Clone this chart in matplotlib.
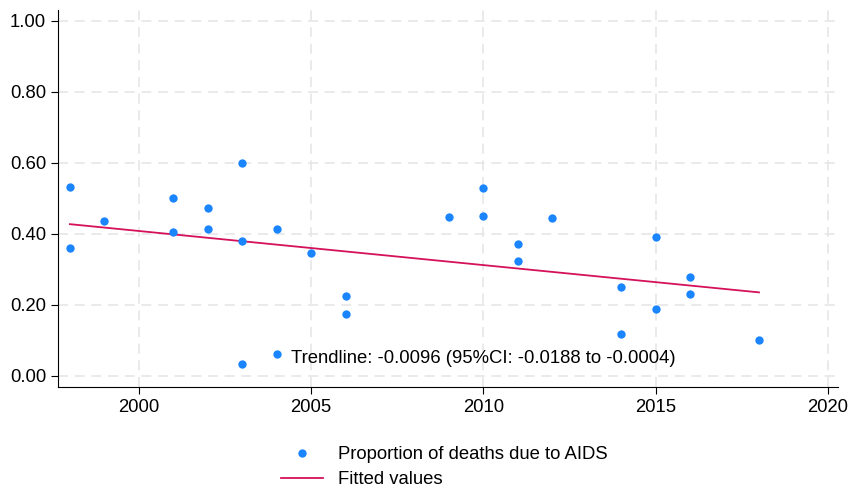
import numpy as np
import matplotlib
matplotlib.use("Agg")
import matplotlib.pyplot as plt

plt.rcParams['font.family'] = ['Liberation Sans', 'DejaVu Sans']

years = [1998, 1998, 1999, 2001, 2001, 2002, 2002, 2003, 2003, 2003,
         2004, 2004, 2005, 2006, 2006, 2009, 2010, 2010, 2011, 2011,
         2012, 2014, 2014, 2015, 2015, 2016, 2016, 2018]
prop_aids = [0.531, 0.360, 0.435, 0.500, 0.404, 0.472, 0.413, 0.598, 0.379, 0.034,
             0.413, 0.062, 0.345, 0.225, 0.174, 0.447, 0.528, 0.449, 0.371, 0.323,
             0.444, 0.250, 0.118, 0.390, 0.188, 0.278, 0.230, 0.101]
fit_x = [1998, 2018]
fit_y = [0.427, 0.235]
trend_text = "Trendline: -0.0096 (95%CI: -0.0188 to -0.0004)"

fig = plt.figure(figsize=(8.51, 4.96), dpi=100)
ax = fig.add_axes([0.068, 0.22, 0.917, 0.76])

ax.plot(years, prop_aids, 'o', color='#1a85ff', ms=6, mec='none',
        label='Proportion of deaths due to AIDS', zorder=3)
ax.plot(fit_x, fit_y, '-', color='#d41159', lw=1.3, label='Fitted values', zorder=2)
ax.text(2004.42, 0.048, trend_text, fontsize=13.3, va='center', ha='left')

ax.set_xlim(1997.65, 2020.3)
ax.set_ylim(-0.031, 1.03)
ax.set_xticks([2000, 2005, 2010, 2015, 2020])
ax.set_yticks([0, 0.2, 0.4, 0.6, 0.8, 1.0])
ax.set_yticklabels(['0.00', '0.20', '0.40', '0.60', '0.80', '1.00'])
ax.tick_params(labelsize=13.3, length=5, direction='out')
ax.grid(True, color='#e6e6e6', ls=(0, (6, 4)), lw=1.2)
ax.set_axisbelow(True)
for s in ['top', 'right']:
    ax.spines[s].set_visible(False)

fig.legend(loc='upper center', bbox_to_anchor=(0.522, 0.134), frameon=False,
           fontsize=13.3, ncol=1, handlelength=2.3, handletextpad=0.8,
           labelspacing=0.45)

fig.savefig('out.png', dpi=100)
